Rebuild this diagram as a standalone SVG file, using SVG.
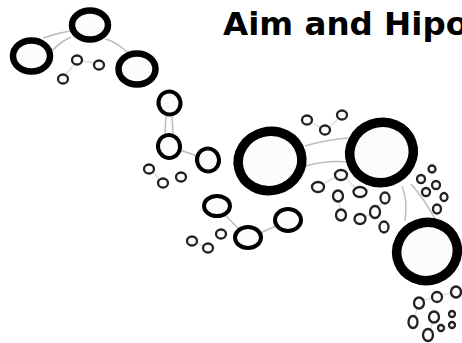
<svg xmlns="http://www.w3.org/2000/svg" width="462" height="343" viewBox="0 0 462 343">
<style>
.e{fill:none;stroke:#bdbdbd;stroke-width:1.5}
.f{fill:none;stroke:#dedede;stroke-width:1.5}
.big{fill:#fcfcfc;stroke:#000;stroke-width:9.5}
.mid{fill:#fcfcfc;stroke:#000;stroke-width:6.5}
.sm{fill:#fcfcfc;stroke:#000;stroke-width:4}
.t{fill:#fcfcfc;stroke:#222;stroke-width:2.3}
.title{font-family:"DejaVu Sans",Verdana,sans-serif;font-weight:bold;font-size:32.5px;fill:#000}
</style>
<rect width="462" height="343" fill="#fff"/>
<g id="connectors">
<path class="e" d="M70,31 Q57,33 43,38"/>
<path class="e" d="M71,37 Q60,42 53,50"/>
<path class="e" d="M106,39 Q118,43 128,53"/>
<path class="f" d="M82,61 L94,63"/>
<path class="f" d="M74,65 L66,74"/>
<path class="e" d="M166,114 L165,135"/>
<path class="e" d="M172,114 L173,135"/>
<path class="e" d="M180,150 L197,156"/>
<path class="f" d="M153,172 L159,179"/>
<path class="e" d="M226,216 L238,228"/>
<path class="e" d="M260,233 L276,226"/>
<path class="f" d="M197,243 L203,246"/>
<path class="e" d="M305,146 Q325,140 348,138"/>
<path class="e" d="M306,166 Q325,160 350,162"/>
<path class="f" d="M312,123 L320,127"/>
<path class="f" d="M330,127 L338,119"/>
<path class="e" d="M402,186 Q408,200 405,221"/>
<path class="e" d="M411,184 Q425,200 435,219"/>
<path class="f" d="M323,184 L336,177"/>
<path class="f" d="M346,178 L355,188"/>
<path class="f" d="M338,201 L341,210"/>
<path class="f" d="M365,217 L370,214"/>
<path class="f" d="M378,206 L383,203"/>
<path class="f" d="M424,300 L432,298"/>
<path class="f" d="M441,295 L451,293"/>
<path class="f" d="M415,316 L417,309"/>
<path class="f" d="M431,329 L432,323"/>
</g>
<g id="title"><text class="title" x="223" y="35">Aim and Hipo</text></g>
<g id="nA"><ellipse class="mid" cx="90" cy="25" rx="18" ry="14.5"/></g>
<g id="nB"><ellipse class="mid" cx="31.5" cy="56" rx="18.5" ry="15.5"/></g>
<g id="nC"><ellipse class="mid" cx="137" cy="69" rx="18.5" ry="15.5"/></g>
<g id="s1"><ellipse class="t" cx="77" cy="60" rx="5" ry="4.5"/></g>
<g id="s2"><ellipse class="t" cx="99" cy="65" rx="5" ry="4.5"/></g>
<g id="s3"><ellipse class="t" cx="63" cy="79" rx="5" ry="4.5"/></g>
<g id="nD"><ellipse class="sm" cx="169.5" cy="103" rx="11" ry="11.5" transform="rotate(-15 169.5 103)"/></g>
<g id="nE"><ellipse class="sm" cx="169" cy="146.5" rx="11" ry="11.5" transform="rotate(-15 169 146.5)"/></g>
<g id="nF"><ellipse class="sm" cx="208" cy="160" rx="11" ry="11.5" transform="rotate(-15 208 160)"/></g>
<g id="s4"><ellipse class="t" cx="149" cy="169" rx="5" ry="4.5"/></g>
<g id="s5"><ellipse class="t" cx="163" cy="183" rx="5" ry="4.5"/></g>
<g id="s6"><ellipse class="t" cx="181" cy="177" rx="5" ry="4.5"/></g>
<g id="nG"><ellipse class="sm" cx="217" cy="206" rx="13" ry="10"/></g>
<g id="nH"><ellipse class="sm" cx="248" cy="237.5" rx="13" ry="10.5"/></g>
<g id="nI"><ellipse class="sm" cx="288" cy="220" rx="13" ry="11"/></g>
<g id="s7"><ellipse class="t" cx="192" cy="241" rx="5" ry="4.5"/></g>
<g id="s8"><ellipse class="t" cx="208" cy="248" rx="5" ry="4.5"/></g>
<g id="s9"><ellipse class="t" cx="221" cy="234" rx="5" ry="4.5"/></g>
<g id="nJ"><ellipse class="big" cx="270" cy="161" rx="32" ry="29.5" transform="rotate(-15 270 161)"/></g>
<g id="nK"><ellipse class="big" cx="381.5" cy="152.5" rx="32" ry="30" transform="rotate(-20 381.5 152.5)"/></g>
<g id="nL"><ellipse class="big" cx="427" cy="251.5" rx="30.5" ry="29" transform="rotate(-20 427 251.5)"/></g>
<g id="s10"><ellipse class="t" cx="307" cy="120" rx="5" ry="4.5"/></g>
<g id="s11"><ellipse class="t" cx="325" cy="130" rx="5" ry="4.5"/></g>
<g id="s12"><ellipse class="t" cx="342" cy="115" rx="5" ry="4.5"/></g>
<g id="s13"><ellipse class="t" cx="318" cy="187" rx="6" ry="5"/></g>
<g id="s14"><ellipse class="t" cx="341" cy="175" rx="6" ry="5"/></g>
<g id="s15"><ellipse class="t" cx="338" cy="196" rx="5" ry="5.5"/></g>
<g id="s16"><ellipse class="t" cx="360" cy="192" rx="6.5" ry="5"/></g>
<g id="s17"><ellipse class="t" cx="341" cy="215" rx="5" ry="5.5"/></g>
<g id="s18"><ellipse class="t" cx="360" cy="219" rx="5.5" ry="5"/></g>
<g id="s19"><ellipse class="t" cx="375" cy="212" rx="5" ry="6"/></g>
<g id="s20"><ellipse class="t" cx="385" cy="198" rx="4.5" ry="5.5"/></g>
<g id="s21"><ellipse class="t" cx="384" cy="227" rx="4.5" ry="5.5"/></g>
<g id="s22"><ellipse class="t" cx="432" cy="169" rx="3.5" ry="3.5"/></g>
<g id="s23"><ellipse class="t" cx="421" cy="179" rx="4" ry="4"/></g>
<g id="s24"><ellipse class="t" cx="436" cy="185" rx="4" ry="4"/></g>
<g id="s25"><ellipse class="t" cx="426" cy="192" rx="4" ry="4"/></g>
<g id="s26"><ellipse class="t" cx="444" cy="197" rx="3.5" ry="4"/></g>
<g id="s27"><ellipse class="t" cx="437" cy="209" rx="4" ry="4.5"/></g>
<g id="s28"><ellipse class="t" cx="419" cy="303" rx="5" ry="5.5"/></g>
<g id="s29"><ellipse class="t" cx="437" cy="297" rx="5" ry="5"/></g>
<g id="s30"><ellipse class="t" cx="456" cy="292" rx="5" ry="5.5"/></g>
<g id="s31"><ellipse class="t" cx="413" cy="322" rx="4.5" ry="6"/></g>
<g id="s32"><ellipse class="t" cx="434" cy="317" rx="5" ry="5.5"/></g>
<g id="s33"><ellipse class="t" cx="452" cy="314" rx="3" ry="3"/></g>
<g id="s34"><ellipse class="t" cx="428" cy="335" rx="5" ry="6"/></g>
<g id="s35"><ellipse class="t" cx="441" cy="328" rx="3" ry="3"/></g>
<g id="s36"><ellipse class="t" cx="452" cy="325" rx="3" ry="3"/></g>
</svg>
